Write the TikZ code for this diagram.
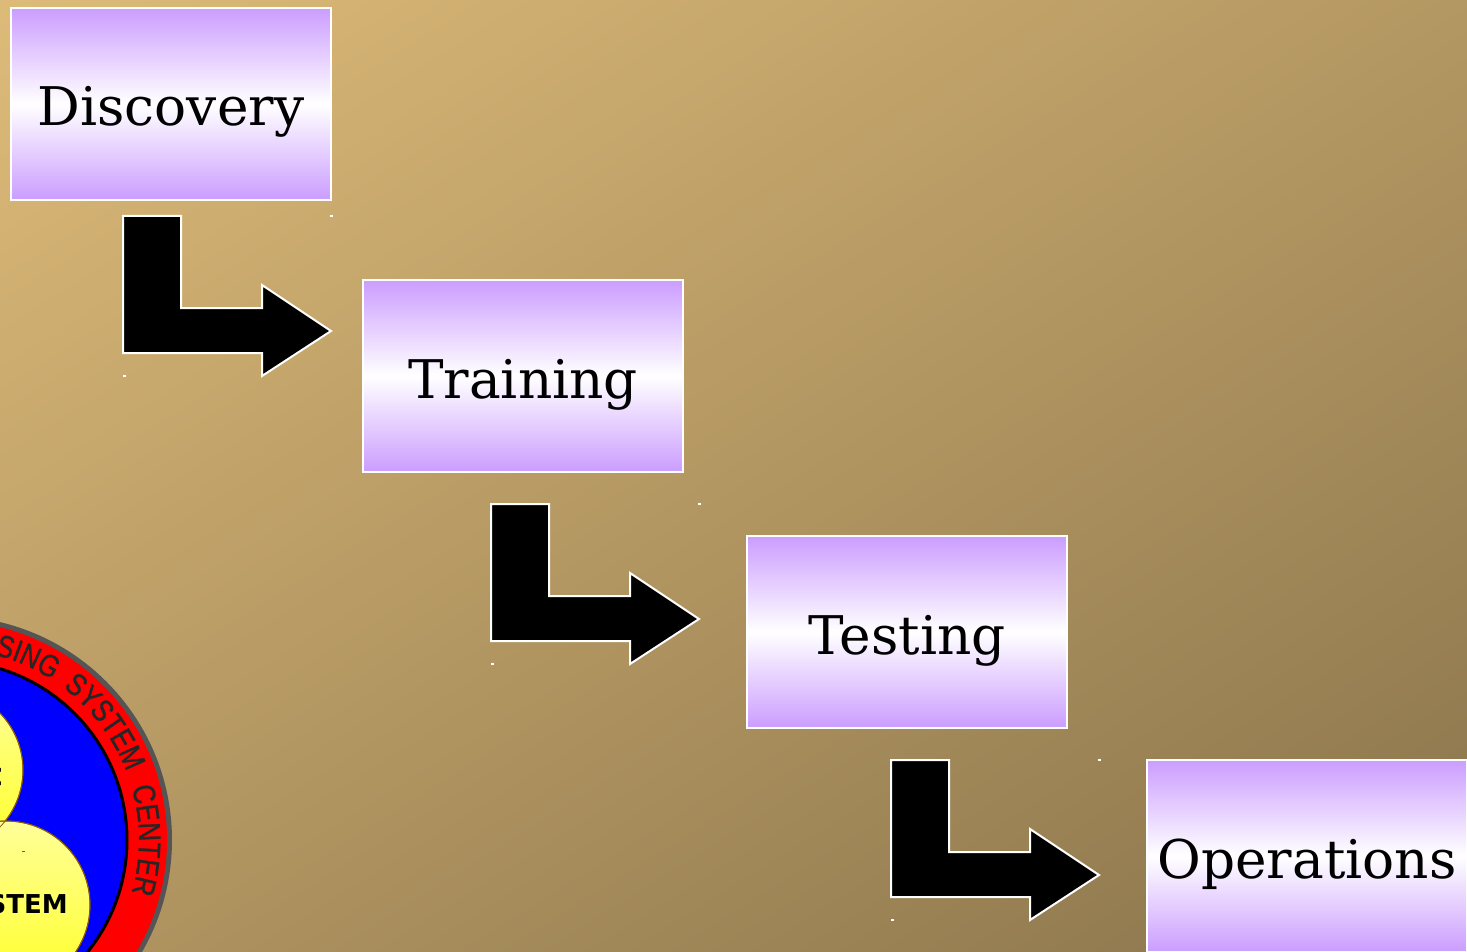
\documentclass[tikz,border=0pt]{standalone}
\usepackage{fontspec}
\setmainfont{DejaVu Serif}
\newfontfamily\badgefont{DejaVu Sans}
\newfontfamily\ringfont[FakeStretch=0.84,FakeBold=0.8]{Liberation Sans}
\usetikzlibrary{decorations.text}
\definecolor{phaseviolet}{HTML}{CB9DFF}
\definecolor{sandlight}{HTML}{E0BD7A}
\definecolor{sanddark}{HTML}{86714A}
\definecolor{ringgrey}{HTML}{555555}
\definecolor{ringtext}{HTML}{262626}
\definecolor{lobebrown}{HTML}{8B5A00}
\tikzset{
  phasebox/.style={draw=white,line width=2pt,minimum width=320pt,minimum height=192pt,
    inner sep=0pt,top color=phaseviolet,bottom color=phaseviolet,middle color=white,
    text height=44pt,text depth=0pt,font=\fontsize{53.3}{53.3}\selectfont},
  bentarrow/.style={draw=white,line width=2pt,fill=black,line join=miter},
  lobe/.style={draw=lobebrown,line width=1pt,top color=yellow!40!white,bottom color=yellow!85!white},
  badgetext/.style={inner sep=0pt,font=\fontsize{26}{26}\selectfont\badgefont\bfseries,text=black},
  ringword/.style={decorate,decoration={text along path,
    text={|\fontsize{31}{31}\selectfont\ringfont\color{ringtext}|#1}}}
}
\begin{document}
\begin{tikzpicture}[x=1pt,y=-1pt]
\useasboundingbox (0,0) rectangle (1467,952);
\begin{scope}
\clip (0,0) rectangle (1467,952);
\shade[shading=axis,top color=sandlight,bottom color=sanddark,shading angle=32]
  (733-853,476-853) rectangle (733+853,476+853);

% badge in the corner
\coordinate (badge) at (-52,840);
\fill[ringgrey] (badge) circle[radius=224];
\fill[red] (badge) circle[radius=219];
\draw[line width=3pt,fill=blue] (badge) circle[radius=179];
\shade[lobe] (-59,770) circle[radius=82];
\shade[lobe] (6,905) circle[radius=84];
\draw[lobebrown,thick] (-59,770) circle[radius=82];
\draw[lobebrown,thick] (6,905) circle[radius=84];
\fill[lobebrown] (22,851) rectangle (25,852);
\node[badgetext,anchor=base east] (stem) at (68,913) {STEM};
\node[badgetext,anchor=base east] (lobec) at (3,786) {C};
\path[ringword={SING}] (badge) ++(-76:191) arc[start angle=-76,end angle=-50,radius=191];
\path[ringword={SYSTEM}] (badge) ++(-53:191) arc[start angle=-53,end angle=-15,radius=191];
\path[ringword={CENTER}] (badge) ++(-16:191) arc[start angle=-16,end angle=22,radius=191];
\end{scope}

\node[phasebox] (discovery)  at (171,104) {Discovery};
\node[phasebox] (training)   at (523,376) {Training};
\node[phasebox] (testing)    at (907,632) {Testing};
\node[phasebox] (operations) at (1307,856) {Operations};

\foreach \ax/\ay in {123/216,491/504,891/760} {
  \draw[bentarrow] (\ax,\ay) -- ++(58,0) -- ++(0,92) -- ++(81,0) -- ++(0,-23)
    -- ++(69,46) -- ++(-69,45) -- ++(0,-23) -- ++(-139,0) -- cycle;
  \fill[white] (\ax,\ay+159) rectangle ++(3,2);
}
\foreach \mx/\my in {330/215,698/503,1098/759}
  \fill[white] (\mx,\my) rectangle ++(3,2);
\end{tikzpicture}
\end{document}
